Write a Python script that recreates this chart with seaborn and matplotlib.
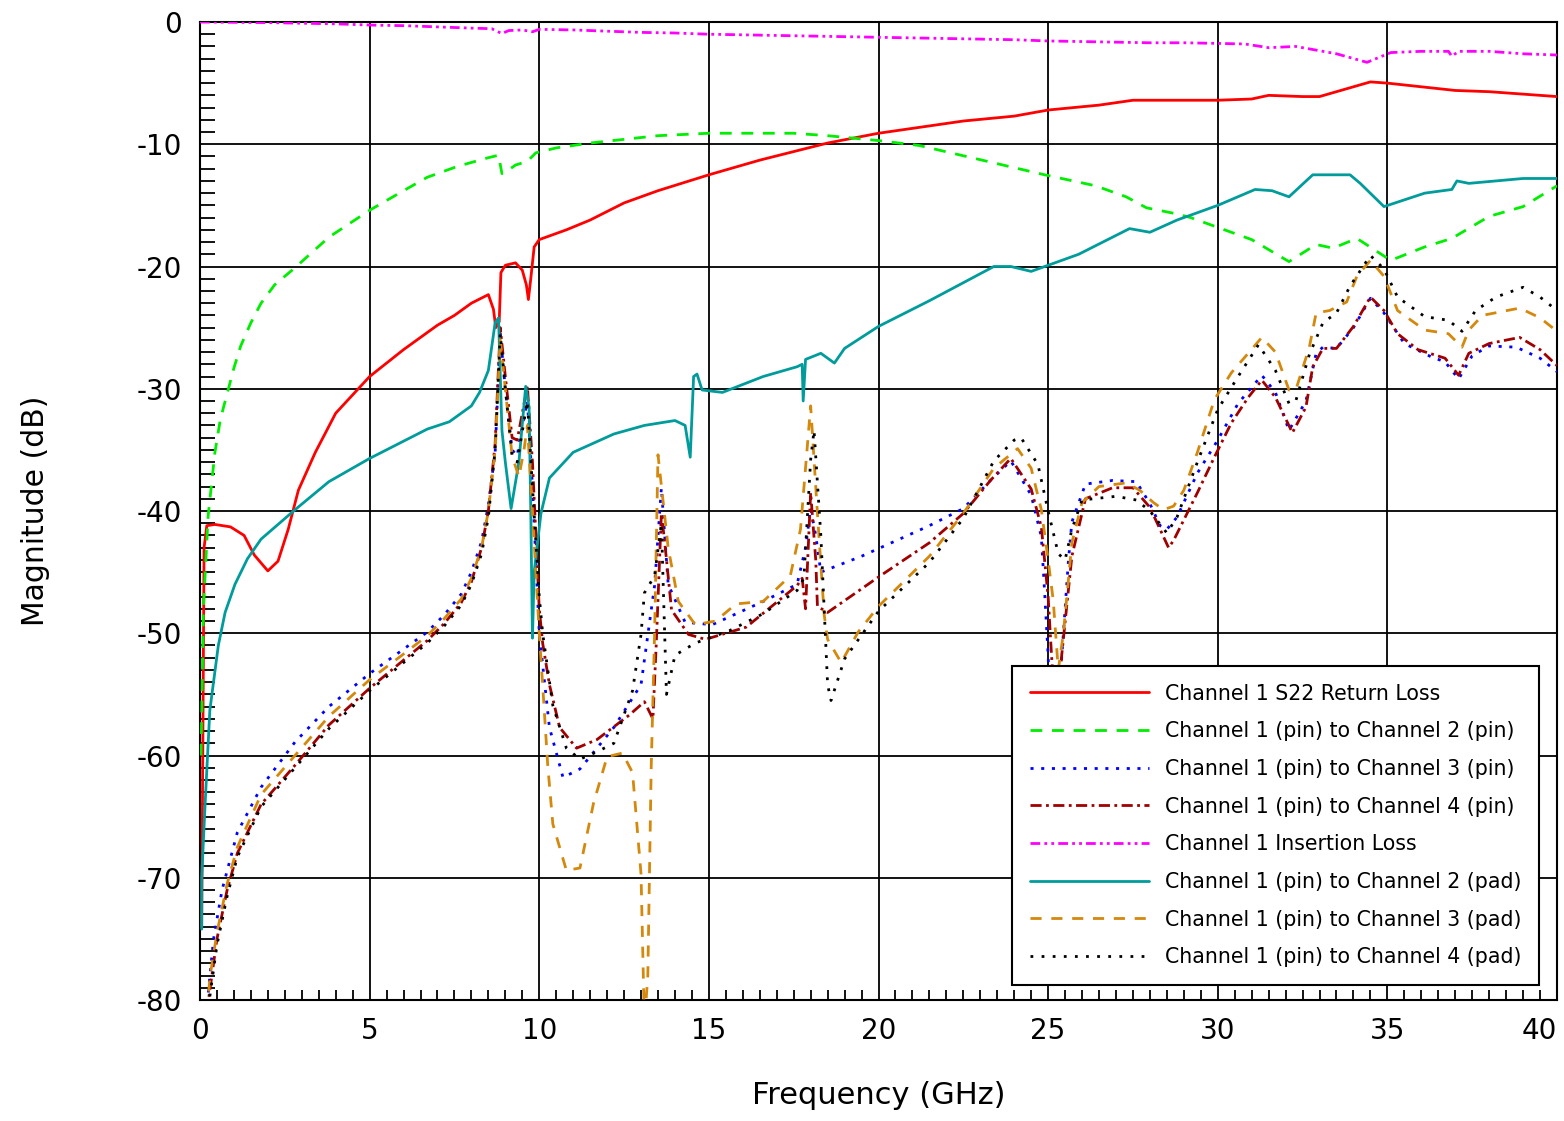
import numpy as np
import pandas as pd
import matplotlib
matplotlib.use("Agg")
import matplotlib.pyplot as plt
from matplotlib.ticker import MultipleLocator
import seaborn as sns

# ---------------- data (GHz, dB) ----------------
rl_f = [0.05, 0.12, 0.2, 0.44, 0.9, 1.3, 1.6, 2.0, 2.3, 2.6, 2.9, 3.4, 4.0, 5.0, 6.0, 7.0, 7.5, 8.0, 8.5, 8.65,
        8.72, 8.82, 8.87, 9.0, 9.3, 9.5, 9.62, 9.68, 9.75, 9.85, 10.0, 10.8, 11.5, 12.5, 13.5, 15.0, 16.5, 17.5,
        18.5, 20.0, 21.5, 22.5, 24.0, 25.0, 26.5, 27.5, 30.0, 31.0, 31.5, 32.5, 33.0, 34.0, 34.5, 35.0, 36.0,
        37.0, 38.0, 39.0, 40.0]
rl_db = [-74, -43, -41.2, -41.1, -41.3, -42.0, -43.6, -44.9, -44.1, -41.5, -38.3, -35.2, -32.0, -29.0, -26.8,
         -24.8, -24.0, -23.0, -22.3, -23.5, -25.0, -24.5, -20.5, -19.9, -19.7, -20.3, -21.5, -22.7, -21.0, -18.4,
         -17.8, -17.0, -16.2, -14.8, -13.8, -12.5, -11.3, -10.6, -9.9, -9.1, -8.5, -8.1, -7.7, -7.2, -6.8, -6.4,
         -6.4, -6.3, -6.0, -6.1, -6.1, -5.3, -4.9, -5.0, -5.3, -5.6, -5.7, -5.9, -6.1]

p2_f = [0.03, 0.1, 0.24, 0.44, 0.6, 0.8, 1.0, 1.2, 1.5, 1.8, 2.2, 2.8, 3.8, 5.0, 6.0, 6.7, 7.6, 8.5, 8.8, 8.9,
        9.0, 9.3, 9.65, 9.9, 10.5, 11.5, 12.5, 13.5, 15.0, 16.5, 17.5, 18.5, 20.0, 21.2, 22.9, 24.9, 26.4, 27.3,
        27.9, 28.8, 29.2, 30.0, 31.0, 32.1, 32.9, 33.4, 34.1, 34.6, 35.1, 36.1, 36.9, 38.0, 39.0, 40.0]
p2_db = [-60, -48, -40.4, -35.2, -32.5, -30.4, -28.3, -26.5, -24.6, -23.0, -21.5, -20.1, -17.6, -15.4, -13.8,
         -12.7, -11.8, -11.1, -10.9, -12.4, -12.3, -11.7, -11.4, -10.7, -10.3, -9.9, -9.6, -9.3, -9.1, -9.1,
         -9.1, -9.3, -9.7, -10.1, -11.2, -12.5, -13.4, -14.3, -15.2, -15.7, -16.0, -16.8, -17.8, -19.6, -18.2,
         -18.5, -17.7, -18.6, -19.5, -18.4, -17.7, -15.9, -15.1, -13.4]

p3_f = [0.15, 0.24, 0.4, 0.65, 1.1, 1.8, 2.8, 3.8, 5.0, 6.0, 6.7, 7.2, 7.7, 8.0, 8.3, 8.5, 8.7, 8.85, 9.0, 9.2,
        9.35, 9.5, 9.65, 9.8, 10.0, 10.3, 10.7, 11.2, 12.2, 13.0, 13.4, 13.6, 13.8, 14.3, 15.1, 16.6, 17.6, 17.85,
        18.0, 18.15, 18.3, 19.5, 21.5, 22.5, 23.3, 23.9, 24.5, 24.8, 24.9, 25.0, 25.1, 25.4, 25.6, 25.7, 26.1,
        26.9, 27.6, 28.0, 28.3, 28.5, 28.8, 29.4, 30.0, 30.6, 31.3, 31.7, 32.1, 32.6, 32.9, 33.1, 33.5, 34.0,
        34.5, 34.9, 35.5, 36.3, 36.7, 37.1, 37.5, 38.0, 38.8, 39.5, 40.0]
p3_db = [-82, -79.5, -75, -71, -66.3, -62.6, -58.9, -56, -53.3, -51.3, -49.9, -48.5, -46.8, -45, -42.5, -39.5,
         -35.2, -25.5, -30, -35, -35.5, -33, -31, -38, -50, -57.7, -61.8, -61.1, -57.7, -54.2, -46.1, -38.1, -46,
         -49.1, -49.3, -47.4, -46, -43, -39.8, -42, -45.0, -43.7, -41.2, -39.8, -37.5, -35.9, -38.7, -42.1,
         -46.8, -51.8, -60, -52, -44, -40.9, -37.8, -37.5, -37.6, -39.4, -41.2, -41.5, -40.5, -36.9, -34.2,
         -31.2, -28.9, -30.3, -33.4, -31, -27.1, -26.6, -26.7, -25, -22.6, -23.8, -26.3, -27.4, -27.8, -29.2,
         -27.3, -26.5, -26.6, -27.5, -28.6]

p4_f = [0.2, 0.3, 0.5, 0.8, 1.1, 1.8, 2.8, 3.8, 5.0, 6.0, 6.7, 7.2, 7.7, 8.0, 8.3, 8.5, 8.7, 8.85, 9.0, 9.2, 9.35,
        9.5, 9.65, 9.8, 10.0, 10.1, 10.3, 10.6, 11.1, 11.7, 12.65, 13.1, 13.35, 13.45, 13.6, 13.7, 13.9, 14.4,
        14.9, 16.1, 17.6, 17.75, 17.85, 18.0, 18.15, 18.2, 18.5, 20.0, 21.5, 22.5, 23.3, 23.9, 24.5, 24.8, 25.0,
        25.1, 25.25, 25.4, 25.7, 26.1, 26.9, 27.5, 28.0, 28.4, 28.55, 28.7, 29.4, 29.9, 30.4, 30.9, 31.3, 31.7,
        32.2, 32.6, 32.8, 33.1, 33.5, 34.0, 34.5, 34.9, 35.3, 35.9, 36.7, 37.1, 37.4, 38.0, 38.9, 39.5, 40.0]
p4_db = [-81, -79, -75, -71, -68, -64, -60.8, -57.5, -54.5, -52.2, -50.6, -49.2, -47.5, -45.8, -43, -40, -34.5,
         -25.0, -29, -34, -34.2, -32, -29.8, -36, -48, -50.8, -54.2, -57.7, -59.4, -58.7, -56.7, -55.6, -57.0,
         -50.8, -40.2, -42.6, -48.1, -50.1, -50.5, -49.5, -46.1, -45.5, -48, -38.5, -44, -47.8, -48.3, -45.4,
         -42.6, -40.2, -37.5, -35.7, -38.2, -41.3, -47, -51.8, -58, -51.8, -43.7, -39.0, -38.1, -38.1, -39.7,
         -42.1, -43.0, -42.4, -38.5, -35.6, -32.8, -30.7, -29.3, -30.7, -33.6, -31.5, -28.2, -26.7, -26.7,
         -24.9, -22.5, -23.6, -25.5, -26.8, -27.5, -28.9, -27.1, -26.3, -25.8, -26.8, -28.1]

il_f = [0, 2, 4, 5, 6, 7, 8, 8.6, 8.9, 9.1, 9.5, 9.8, 10, 11, 12, 13, 14, 15, 16, 17, 18, 19, 20, 21, 22, 23,
        24, 25, 26, 27, 28, 29, 30, 30.8, 31.5, 32.3, 33.5, 34.4, 35.1, 36, 36.8, 36.9, 37.1, 38, 39, 40]
il_db = [0, -0.05, -0.15, -0.25, -0.3, -0.4, -0.5, -0.55, -0.95, -0.7, -0.65, -0.8, -0.6, -0.65, -0.75, -0.85,
         -0.9, -1.0, -1.05, -1.1, -1.15, -1.2, -1.25, -1.3, -1.35, -1.4, -1.45, -1.55, -1.6, -1.65, -1.7, -1.7,
         -1.75, -1.8, -2.1, -2.0, -2.6, -3.3, -2.5, -2.4, -2.4, -2.8, -2.4, -2.4, -2.6, -2.7]

d2_f = [0.05, 0.05, 0.15, 0.29, 0.54, 0.74, 1.03, 1.4, 1.8, 2.8, 3.8, 5.0, 6.7, 7.35, 8.0, 8.24, 8.5, 8.7, 8.8,
        8.9, 9.0, 9.17, 9.4, 9.6, 9.7, 9.75, 9.8, 9.85, 10.05, 10.3, 11.0, 12.2, 13.1, 14.0, 14.3, 14.45, 14.55,
        14.65, 14.8, 15.4, 16.6, 17.6, 17.75, 17.78, 17.85, 18.3, 18.7, 19.0, 20.0, 21.5, 23.4, 23.9, 24.5,
        25.0, 25.9, 27.4, 28.0, 28.8, 30.0, 31.1, 31.6, 32.1, 32.8, 33.9, 34.2, 34.9, 36.1, 36.9, 37.05, 37.4,
        39.0, 40.0]
d2_db = [-74.2, -70, -64, -56.3, -51, -48.3, -46, -43.9, -42.3, -39.9, -37.6, -35.7, -33.3, -32.7, -31.4,
         -30.3, -28.5, -24.6, -24.2, -33.4, -36, -39.8, -36, -29.8, -31.5, -40, -50.4, -45, -40.2, -37.3, -35.2,
         -33.7, -33.0, -32.6, -33, -35.6, -29, -28.8, -30.1, -30.3, -29.0, -28.2, -28.0, -31, -27.6, -27.1,
         -27.9, -26.7, -24.9, -22.8, -20.0, -20.0, -20.4, -19.9, -19.0, -16.9, -17.2, -16.2, -15.0, -13.7,
         -13.8, -14.3, -12.5, -12.5, -13.2, -15.1, -14.0, -13.7, -13.0, -13.2, -12.8, -12.8]

d3_f = [0.2, 0.3, 0.5, 0.8, 1.1, 1.8, 2.8, 3.8, 5.0, 6.0, 6.7, 7.2, 7.7, 8.0, 8.3, 8.5, 8.7, 8.85, 9.0, 9.2, 9.4,
        9.55, 9.65, 9.8, 10.0, 10.1, 10.25, 10.4, 10.8, 11.2, 11.6, 12.0, 12.45, 12.75, 13.0, 13.1, 13.2, 13.3,
        13.4, 13.5, 13.8, 14.1, 14.6, 15.2, 15.8, 16.6, 17.4, 17.7, 18.0, 18.2, 18.4, 18.5, 18.9, 19.4, 20.0,
        21.5, 22.5, 23.4, 24.1, 24.5, 24.8, 25.0, 25.15, 25.3, 25.45, 25.7, 26.0, 26.5, 27.3, 27.7, 28.1, 28.4,
        28.7, 29.0, 29.4, 29.9, 30.4, 31.3, 31.7, 32.1, 32.3, 32.7, 32.9, 33.3, 33.8, 34.1, 34.5, 34.9, 35.3,
        36.1, 36.8, 37.2, 37.4, 37.8, 38.9, 39.5, 40.0]
d3_db = [-81, -78, -74.5, -70.5, -67.5, -63.2, -60, -56.8, -53.8, -51.7, -50.2, -48.8, -47.2, -45.5, -43, -40,
         -35, -26.0, -30, -35.5, -37.2, -35, -33, -40, -50, -54.2, -60.8, -65.6, -69.4, -69.2, -63.9, -60.1,
         -59.8, -61.4, -69.7, -82, -78, -61, -50, -35.4, -43, -47.4, -49.3, -49.0, -47.6, -47.4, -45.3, -41.5,
         -31.4, -40.2, -48.5, -50.5, -52.4, -49.9, -47.8, -43.7, -40.2, -36.5, -34.9, -36.5, -39.9, -44, -47.3,
         -53, -50, -42.6, -39.3, -38.0, -37.7, -38.3, -39.3, -39.9, -39.6, -38.3, -35.2, -30.9, -28.7, -25.8,
         -27, -30.1, -30.1, -26.6, -23.8, -23.6, -22.9, -20.8, -19.5, -20.8, -23.6, -25.2, -25.5, -26.6, -25.2,
         -24.0, -23.4, -24.2, -25.3]

d4_f = [0.2, 0.3, 0.5, 0.8, 1.1, 1.8, 2.8, 3.8, 5.0, 6.0, 6.7, 7.2, 7.7, 8.0, 8.3, 8.5, 8.7, 8.85, 9.0, 9.2, 9.35,
        9.5, 9.65, 9.8, 10.0, 10.1, 10.4, 10.8, 11.2, 11.7, 12.2, 12.75, 13.0, 13.1, 13.4, 13.6, 13.75, 14.0,
        14.6, 15.6, 16.6, 17.6, 17.8, 18.0, 18.1, 18.3, 18.5, 18.6, 19.0, 20.0, 21.5, 22.5, 23.4, 24.0, 24.2,
        24.7, 25.0, 25.3, 25.5, 25.7, 26.0, 27.0, 27.6, 28.0, 28.5, 28.8, 29.4, 30.0, 30.6, 31.2, 31.7, 32.1,
        32.3, 32.7, 33.1, 33.5, 33.9, 34.5, 34.9, 35.3, 36.1, 36.8, 37.2, 37.6, 38.2, 39.0, 39.5, 40.0]
d4_db = [-81.5, -79.5, -75.5, -71.5, -68.3, -64.2, -61, -57.8, -54.7, -52.4, -50.8, -49.4, -47.7, -46, -43.5,
         -40.5, -35, -25.5, -30, -35.5, -36, -33.5, -31, -38, -47, -50, -55.9, -59.4, -60.3, -59.7, -59.0,
         -54.7, -50.1, -46.7, -45.3, -41, -55, -51.8, -50.8, -49.8, -48.4, -46.5, -45.5, -35.8, -33.4, -42,
         -54.2, -55.5, -52.1, -48.2, -44.2, -40.6, -35.9, -34.2, -34.0, -36.2, -40, -43.5, -44, -41.5, -39.1,
         -38.8, -39.1, -40.0, -41.8, -40.5, -36.0, -31.7, -29.0, -26.4, -28.5, -31.2, -31, -27.2, -24.6, -23.8,
         -21.6, -19.1, -20.2, -22.5, -24.1, -24.4, -25.3, -23.6, -22.5, -21.7, -22.5, -23.6]

labels = ["Channel 1 S22 Return Loss",
          "Channel 1 (pin) to Channel 2 (pin)",
          "Channel 1 (pin) to Channel 3 (pin)",
          "Channel 1 (pin) to Channel 4 (pin)",
          "Channel 1 Insertion Loss",
          "Channel 1 (pin) to Channel 2 (pad)",
          "Channel 1 (pin) to Channel 3 (pad)",
          "Channel 1 (pin) to Channel 4 (pad)"]

x_ticks = [0, 5, 10, 15, 20, 25, 30, 35, 40]
y_ticks = [0, -10, -20, -30, -40, -50, -60, -70, -80]

# ---------------- style ----------------
sns.set_theme(style="white")
plt.rcParams["font.family"] = ["DejaVu Sans"]
plt.rcParams["axes.unicode_minus"] = False
plt.rcParams["lines.scale_dashes"] = False
plt.rcParams["text.color"] = "black"
plt.rcParams["axes.labelcolor"] = "black"

series = [
    (rl_f, rl_db, "#ff0000", "-"),
    (p2_f, p2_db, "#00ee00", (0, (8.5, 7))),
    (p3_f, p3_db, "#0000ff", (0, (2.2, 5.5))),
    (p4_f, p4_db, "#a00000", (0, (8, 3.2, 2, 3.2))),
    (il_f, il_db, "#ff00ff", (0, (7, 3, 2, 3, 2, 3))),
    (d2_f, d2_db, "#009c9c", "-"),
    (d3_f, d3_db, "#d4880c", (0, (8, 7))),
    (d4_f, d4_db, "#000000", (0, (2, 6))),
]

fig = plt.figure(figsize=(15.64, 11.21), dpi=100)
ax = fig.add_axes([200 / 1564, 1 - 1000 / 1121, 1357 / 1564, 978 / 1121])

for (f, v, c, ls), lab in zip(series, labels):
    df = pd.DataFrame({"f": f, "v": v})
    sns.lineplot(data=df, x="f", y="v", ax=ax, color=c, linestyle=ls, linewidth=2.0,
                 sort=False, estimator=None, label=lab, zorder=3)

ax.set_xlim(0, 40)
ax.set_ylim(-80, 0)
ax.set_xticks(x_ticks)
ax.set_yticks(y_ticks)
ax.set_xticklabels([str(t) for t in x_ticks])
ax.set_yticklabels([str(t) for t in y_ticks])
ax.get_xticklabels()[-1].set_horizontalalignment("right")
ax.xaxis.set_minor_locator(MultipleLocator(0.5))
ax.yaxis.set_minor_locator(MultipleLocator(1))
ax.tick_params(axis="both", which="major", direction="in", length=0, labelsize=20,
               colors="black", labelcolor="black")
ax.tick_params(axis="x", which="major", pad=12)
ax.tick_params(axis="y", which="major", pad=13)
ax.tick_params(axis="y", which="minor", direction="in", length=11, width=1.3, left=True, color="black")
ax.tick_params(axis="x", which="minor", direction="in", length=7, width=1.3, bottom=True, color="black")
ax.grid(True, which="major", color="black", linewidth=1.3)
for s in ax.spines.values():
    s.set_color("black")
    s.set_linewidth(1.5)
    s.set_zorder(2)
ax.set_axisbelow(True)

ax.set_xlabel("Frequency (GHz)", fontsize=22, labelpad=26, color="black")
ax.set_ylabel("Magnitude (dB)", fontsize=21.5, labelpad=62, color="black")

leg = ax.legend(loc="lower right", bbox_to_anchor=(0.994, 0.005), fontsize=14.8, frameon=True,
                fancybox=False, framealpha=1, edgecolor="black", handlelength=5.8,
                handletextpad=0.75, labelspacing=0.86, borderpad=0.85)
leg.get_frame().set_linewidth(1.5)
leg.set_zorder(10)

fig.savefig("out.png", dpi=100)
